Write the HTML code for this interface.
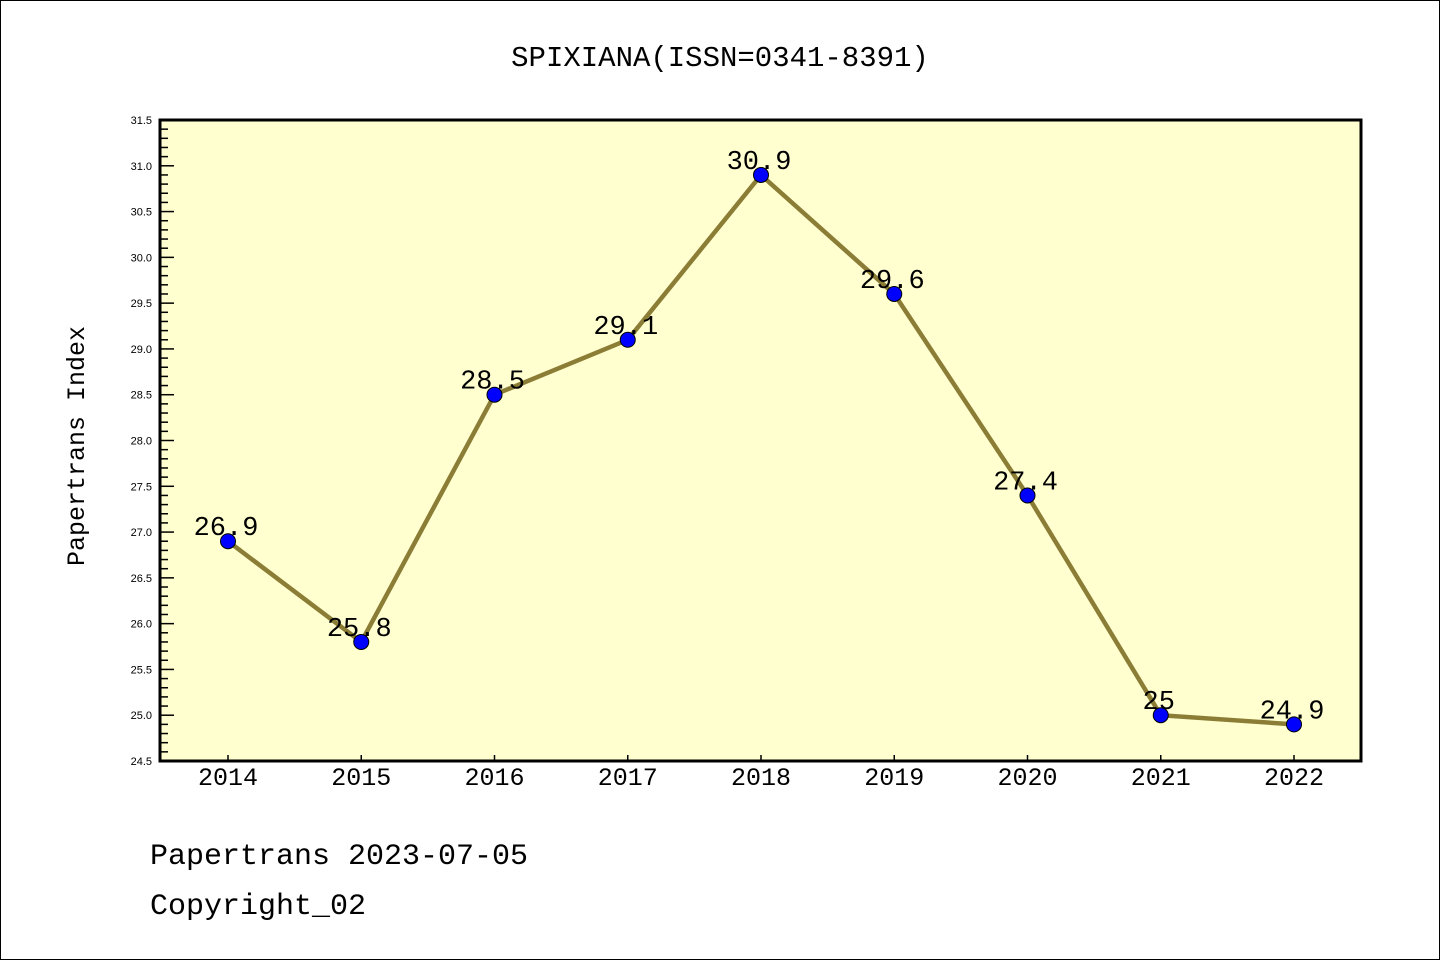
<!DOCTYPE html>
<html><head><meta charset="utf-8"><style>
body{margin:0;background:#fff}
svg text{font-family:"Liberation Mono","DejaVu Sans Mono",monospace}
svg text.s{font-family:"Liberation Sans",sans-serif}
</style></head><body>
<svg id="c" width="1440" height="960" xmlns="http://www.w3.org/2000/svg">
<rect x="0.5" y="0.5" width="1439" height="959" fill="#fff" stroke="#000"/>
<text x="720" y="66" font-size="29" text-anchor="middle">SPIXIANA(ISSN=0341-8391)</text>
<rect x="160" y="120" width="1201" height="641" fill="#ffffd0"/>
<g id="ticks"></g>
<g id="series"></g>
<rect x="160" y="120" width="1201" height="641" fill="none" stroke="#000" stroke-width="3"/>
<text transform="translate(84,446) rotate(-90)" font-size="25" text-anchor="middle">Papertrans Index</text>
<text x="150" y="864" font-size="30">Papertrans 2023-07-05</text>
<text x="150" y="914" font-size="30">Copyright_02</text>
</svg>
<script>
const years=["2014","2015","2016","2017","2018","2019","2020","2021","2022"];
const values=[26.9,25.8,28.5,29.1,30.9,29.6,27.4,25,24.9];
const labels=["26.9","25.8","28.5","29.1","30.9","29.6","27.4","25","24.9"];
const yMin=24.5,yMax=31.5;
const NS="http://www.w3.org/2000/svg";
const X0=160,X1=1361,Y0=120,Y1=761;
function xs(i){return 228+i*(1294-228)/(years.length-1);}
function ys(v){return Y1-(v-yMin)/(yMax-yMin)*(Y1-Y0);}
function mk(t,a,p){const e=document.createElementNS(NS,t);for(const k in a)e.setAttribute(k,a[k]);p.appendChild(e);return e;}
const tk=document.getElementById('ticks');
for(let k=0;k<=70;k++){const v=yMin+k*0.1;const y=ys(v);const major=k%5===0;
 const l=mk('line',{x1:X0,x2:X0+(major?14:8),y1:y,y2:y,stroke:'#000','stroke-width':1.5},tk);
 
 
 if(major){const t=mk('text',{x:X0-8,y:y+4,'font-size':11,'text-anchor':'end',class:'s'},tk);t.textContent=v.toFixed(1);
 
 }}
years.forEach((yr,i)=>{const x=xs(i);
 const l=mk('line',{x1:x,x2:x,y1:Y1,y2:Y1-6,stroke:'#000','stroke-width':1.5},tk);
 
 
 const t=mk('text',{x:x,y:785,'font-size':25,'text-anchor':'middle'},tk);t.textContent=yr;
 
 });
const sg=document.getElementById('series');
const pl=mk('polyline',{points:values.map((v,i)=>xs(i)+','+ys(v)).join(' '),fill:'none',stroke:'#8b7d35','stroke-width':4.5},sg);


values.forEach((v,i)=>{
 const c=mk('circle',{cx:xs(i),cy:ys(v),r:7.5,fill:'#0000ff',stroke:'#000','stroke-width':1},sg);
 
 
 const t=mk('text',{x:xs(i)-2,y:ys(v)-6,'font-size':27,'text-anchor':'middle'},sg);t.textContent=labels[i];
 
 });
</script>
</body></html>
